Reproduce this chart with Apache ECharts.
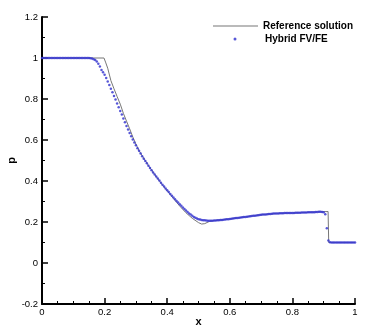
<!DOCTYPE html>
<html>
<head>
<meta charset="utf-8">
<script src="https://cdn.jsdelivr.net/npm/echarts@6/dist/echarts.min.js"></script>
<style>
  html, body { margin: 0; padding: 0; background: #fff; }
  #chart { width: 374px; height: 332px; }
</style>
</head>
<body>
<div id="chart"></div>
<script>
// reference solution
const refX = [0, 0.198, 0.203, 0.21, 0.22, 0.23, 0.24, 0.25, 0.26, 0.27, 0.28, 0.29, 0.30, 0.31, 0.32,
  0.34, 0.36, 0.38, 0.40, 0.42, 0.441, 0.46, 0.48, 0.50, 0.51, 0.52, 0.535, 0.55, 0.60, 0.65, 0.70,
  0.75, 0.80, 0.85, 0.88, 0.914, 0.916, 1]
const refP = [1, 1, 0.98, 0.95, 0.89, 0.85, 0.812, 0.775, 0.73, 0.692, 0.655, 0.615, 0.58, 0.549, 0.523,
  0.476, 0.432, 0.39, 0.352, 0.315, 0.276, 0.245, 0.218, 0.197, 0.19, 0.192, 0.203, 0.207, 0.215, 0.225, 0.235,
  0.242, 0.244, 0.247, 0.249, 0.251, 0.1, 0.1]

// hybrid FV/FE cells, dx = 0.005
const hybridStep = 0.005
const hybridP = [
  1, 1, 1, 1, 1, 1, 1, 1, 1, 1,
  1, 1, 1, 1, 1, 1, 1, 1, 1, 1,
  1, 1, 1, 1, 1, 1, 1, 1, 1, 1,
  1, 0.999, 0.997, 0.994, 0.99, 0.983, 0.972, 0.958, 0.942, 0.93,
  0.918, 0.902, 0.885, 0.868, 0.85, 0.833, 0.815, 0.797, 0.778, 0.76,
  0.742, 0.724, 0.705, 0.687, 0.668, 0.651, 0.634, 0.618, 0.603, 0.588,
  0.574, 0.56, 0.547, 0.534, 0.521, 0.509, 0.497, 0.486, 0.475, 0.464,
  0.453, 0.442, 0.432, 0.422, 0.412, 0.402, 0.392, 0.382, 0.373, 0.364,
  0.355, 0.346, 0.337, 0.328, 0.32, 0.311, 0.303, 0.295, 0.287, 0.279,
  0.271, 0.263, 0.256, 0.249, 0.242, 0.236, 0.23, 0.225, 0.221, 0.217,
  0.214, 0.212, 0.21, 0.209, 0.208, 0.207, 0.206, 0.206, 0.206, 0.206,
  0.207, 0.207, 0.208, 0.209, 0.21, 0.21, 0.211, 0.212, 0.213, 0.214,
  0.215, 0.216, 0.217, 0.218, 0.219, 0.22, 0.221, 0.222, 0.223, 0.224,
  0.225, 0.226, 0.227, 0.228, 0.229, 0.23, 0.231, 0.232, 0.233, 0.234,
  0.235, 0.236, 0.236, 0.237, 0.238, 0.239, 0.239, 0.24, 0.241, 0.241,
  0.242, 0.242, 0.243, 0.243, 0.243, 0.244, 0.244, 0.244, 0.244, 0.244,
  0.244, 0.244, 0.245, 0.245, 0.245, 0.245, 0.246, 0.246, 0.246, 0.246,
  0.247, 0.247, 0.247, 0.248, 0.248, 0.249, 0.249, 0.25, 0.25, 0.249,
  0.247, 0.238, 0.17, 0.11, 0.101, 0.1, 0.1, 0.1, 0.1, 0.1,
  0.1, 0.1, 0.1, 0.1, 0.1, 0.1, 0.1, 0.1, 0.1, 0.1,
  0.1
]

const font = 'Liberation Sans, Arial, sans-serif'
const fmt = v => String(+v.toFixed(1))
const legendText = { fontFamily: font, fontWeight: 'bold', fontSize: 10, color: '#000' }

const chart = echarts.init(document.getElementById('chart'))

chart.setOption({
  animation: false,
  backgroundColor: '#fff',
  grid: { left: 42, right: 19, top: 17, bottom: 28, outerBoundsMode: 'none', containLabel: false },
  legend: [
    {
      data: [{ name: 'Reference solution', icon: 'rect' }],
      left: 213, top: 21, padding: 0,
      itemWidth: 45, itemHeight: 1,
      textStyle: legendText
    },
    {
      data: [{ name: 'Hybrid FV/FE', icon: 'circle' }],
      left: 233.5, top: 34, padding: 0,
      itemWidth: 3, itemHeight: 3,
      textStyle: Object.assign({ padding: [0, 0, 0, 23.5] }, legendText)
    }
  ],
  xAxis: {
    type: 'value',
    min: 0, max: 1, interval: 0.2,
    name: 'x', nameLocation: 'middle', nameGap: 12, nameMoveOverlap: false,
    nameTextStyle: { fontFamily: font, fontWeight: 'bold', fontSize: 11, color: '#000' },
    axisLine: { onZero: false, lineStyle: { color: '#000', width: 2 } },
    axisTick: { inside: true, length: 6, lineStyle: { color: '#000', width: 1.5 } },
    minorTick: { show: true, splitNumber: 4, length: 3, lineStyle: { color: '#000', width: 1 } },
    splitLine: { show: false },
    axisLabel: { formatter: fmt, fontFamily: font, fontSize: 9.5, color: '#000', margin: 3 }
  },
  yAxis: {
    type: 'value',
    min: -0.2, max: 1.2, interval: 0.2,
    name: 'p', nameLocation: 'middle', nameGap: 25, nameRotate: 90, nameMoveOverlap: false,
    nameTextStyle: { fontFamily: font, fontWeight: 'bold', fontSize: 11, color: '#000' },
    axisLine: { onZero: false, lineStyle: { color: '#000', width: 2 } },
    axisTick: { inside: true, length: 6, lineStyle: { color: '#000', width: 1.5 } },
    minorTick: { show: true, splitNumber: 2, length: 3, lineStyle: { color: '#000', width: 1 } },
    splitLine: { show: false },
    axisLabel: { formatter: fmt, fontFamily: font, fontSize: 9.5, color: '#000', margin: 4 }
  },
  series: [
    {
      name: 'Reference solution',
      type: 'line',
      symbol: 'none',
      data: refX.map((x, i) => [x, refP[i]]),
      lineStyle: { color: '#777', width: 1 },
      itemStyle: { color: '#777' },
      z: 2
    },
    {
      name: 'Hybrid FV/FE',
      type: 'scatter',
      symbol: 'circle',
      symbolSize: 2.5,
      data: hybridP.map((p, i) => [i * hybridStep, p]),
      itemStyle: { color: '#3a3ad0', opacity: 0.85 },
      z: 3
    }
  ]
})
</script>
</body>
</html>
